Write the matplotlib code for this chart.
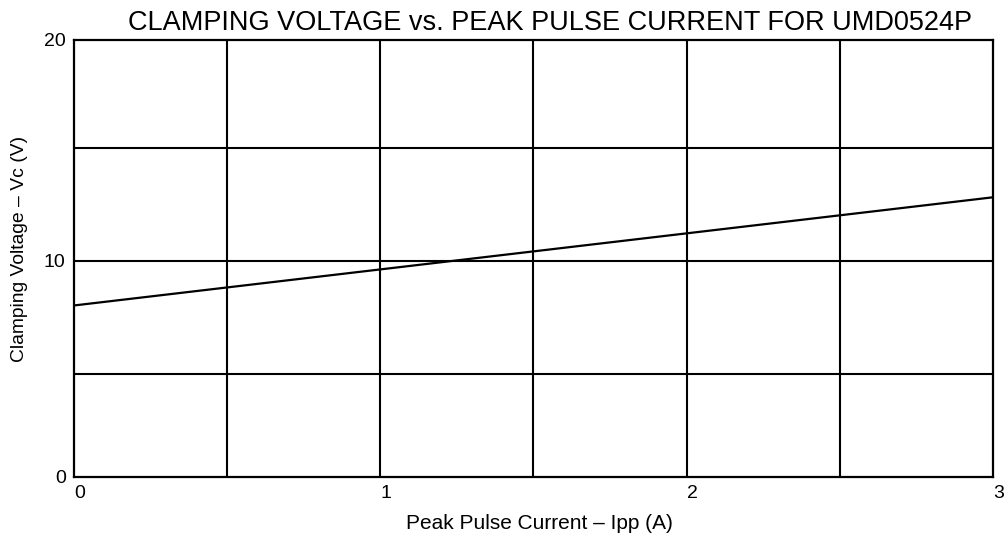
import matplotlib
matplotlib.use("Agg")
import matplotlib.pyplot as plt

plt.rcParams['font.family'] = ['Liberation Sans', 'DejaVu Sans']

current = [0.0, 1.0, 2.0, 3.0]
voltage = [7.85, 9.5, 11.15, 12.8]
x_ticks = [0, 1, 2, 3]
x_tick_labels = ["0", "1", "2", "3"]
y_ticks = [0, 9.9, 20]
y_tick_labels = ["0", "10", "20"]
x_grid = [0.5, 1.0, 1.5, 2.0, 2.5]
y_grid = [4.7, 9.9, 15.05]

fig = plt.figure(figsize=(10.06, 5.38), dpi=100)
ax = fig.add_axes([0.0736, 0.1134, 0.9134, 0.8123])
ax.set_xlim(0, 3)
ax.set_ylim(0, 20)

for xv in x_grid:
    ax.axvline(xv, color='black', lw=1.5, zorder=1)
for yv in y_grid:
    ax.axhline(yv, color='black', lw=1.5, zorder=1)

ax.plot(current, voltage, color='black', lw=1.6, zorder=2)

for s in ax.spines.values():
    s.set_linewidth(1.6)

ax.set_xticks(x_ticks)
ax.set_xticklabels(x_tick_labels, fontsize=14)
ax.set_yticks(y_ticks)
ax.set_yticklabels(y_tick_labels, fontsize=14)
ax.tick_params(length=0, pad=6)
for lbl in ax.get_xticklabels():
    lbl.set_horizontalalignment('left')

fig.text(539 / 1006, 1 - 529 / 538, "Peak Pulse Current – Ipp (A)",
         ha='center', va='baseline', fontsize=15)
fig.text(0.019, 0.537, "Clamping Voltage – Vc (V)", rotation=90,
         ha='center', va='center', fontsize=13.9)

fig.text(0.5467, 1 - 30 / 538, "CLAMPING VOLTAGE vs. PEAK PULSE CURRENT FOR UMD0524P",
         ha='center', va='baseline', fontsize=19.5)

fig.savefig("out.png", dpi=100)
